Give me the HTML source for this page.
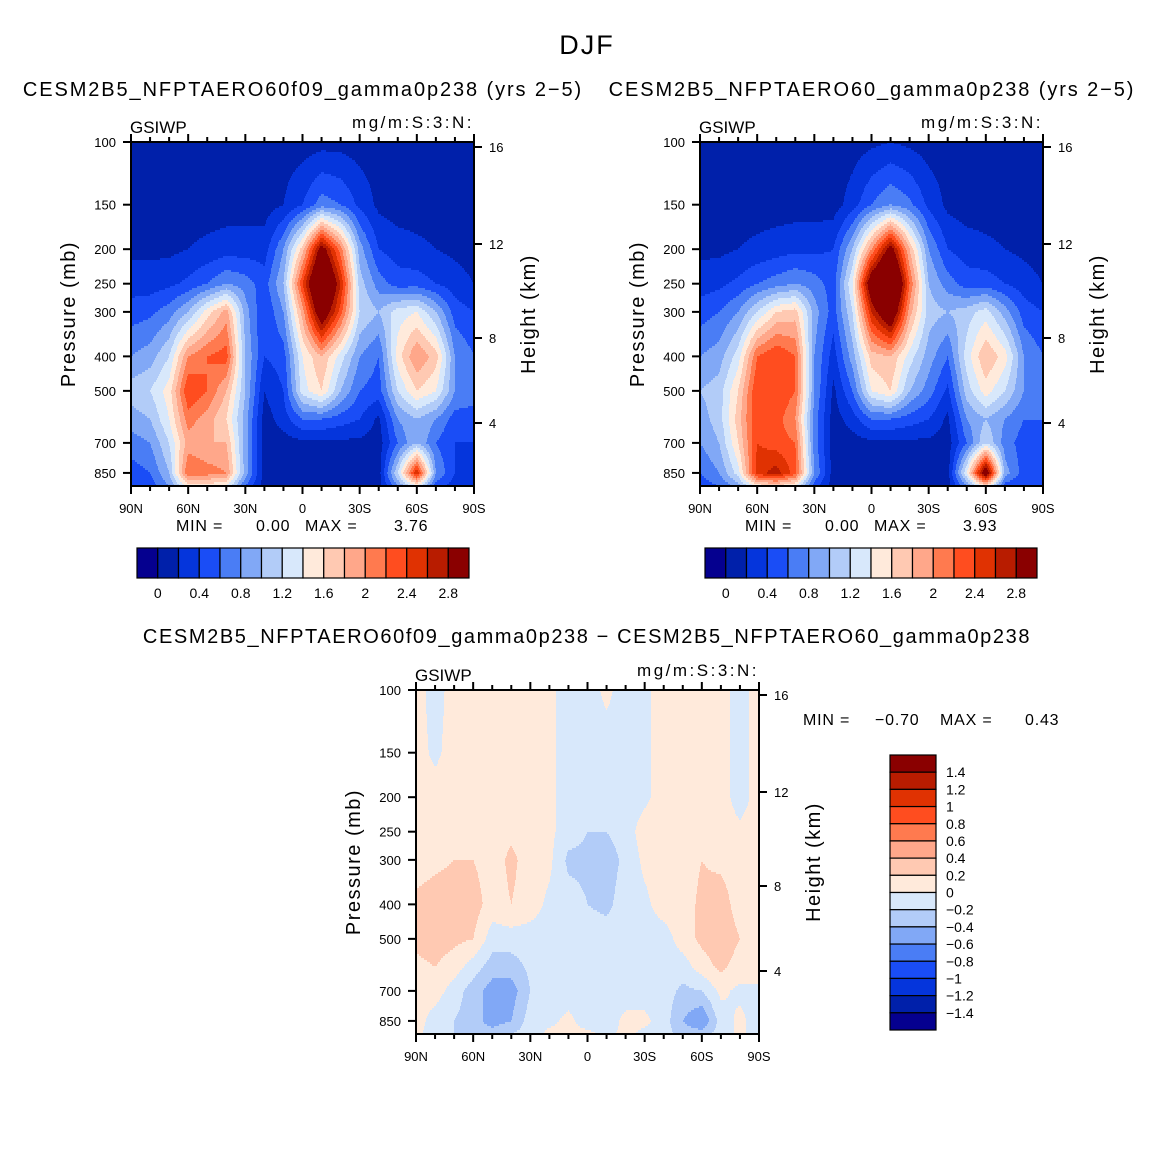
<!DOCTYPE html>
<html><head><meta charset="utf-8"><style>
html,body{margin:0;padding:0;background:#fff;}
svg{display:block;font-family:"Liberation Sans",sans-serif;}
</style></head><body>
<svg id="chart" width="1175" height="1175" viewBox="0 0 1175 1175" xmlns="http://www.w3.org/2000/svg">
<rect width="1175" height="1175" fill="#fff"/>
<text x="587" y="54" font-size="27" text-anchor="middle" letter-spacing="2">DJF</text>
<text x="303" y="96" font-size="20" text-anchor="middle" letter-spacing="1.9">CESM2B5_NFPTAERO60f09_gamma0p238 (yrs 2−5)</text>
<text x="872" y="96" font-size="20" text-anchor="middle" letter-spacing="1.9">CESM2B5_NFPTAERO60_gamma0p238 (yrs 2−5)</text>
<text x="587" y="643" font-size="20" text-anchor="middle" letter-spacing="1.6">CESM2B5_NFPTAERO60f09_gamma0p238 − CESM2B5_NFPTAERO60_gamma0p238</text>
<g id="layer"></g>
</svg>
<script>
const lats = ['90N','80N','70N','60N','50N','40N','30N','20N','10N','0','10S','20S','30S','40S','50S','60S','70S','80S','90S'];
const plevs = [100,150,200,250,300,400,500,600,700,850,925];
const pTicks = [100,150,200,250,300,400,500,700,850];
const hTicks = ['16','12','8','4'];
const hTickOffsets = [5,102,196,281];
const xTickLabels = ['90N','60N','30N','0','30S','60S','90S'];
const barLabelsTop = ['0','0.4','0.8','1.2','1.6','2','2.4','2.8'];
const barLabelsDiff = ['1.4','1.2','1','0.8','0.6','0.4','0.2','0','−0.2','−0.4','−0.6','−0.8','−1','−1.2','−1.4'];
const palette = ['#05008f','#0020aa','#0535dc','#1a4df6','#4a7df5','#81a8f6','#b2ccf8','#d8e8fb','#ffeadb','#ffc9b2','#ffa78a','#ff7a4f','#ff4d1f','#e03202','#b81c00','#8a0000'];
const stats1 = ['0.00','3.76'];
const stats2 = ['0.00','3.93'];
const stats3 = ['−0.70','0.43'];
const panel1 = [
[0.1,0.1,0.15,0.3,0.5,0.8,1.1,0.9,0.7,0.5,0.4],
[0.1,0.1,0.15,0.3,0.55,0.9,1.2,1.0,0.8,0.6,0.5],
[0.1,0.1,0.15,0.35,0.7,1.2,1.5,1.4,1.2,1.0,0.8],
[0.1,0.1,0.2,0.45,1.0,2.0,2.4,2.1,1.9,2.2,1.5],
[0.1,0.1,0.25,0.6,1.5,2.2,2.2,1.9,1.8,2.1,1.5],
[0.1,0.1,0.3,0.8,1.9,2.3,1.8,1.6,1.8,2.0,1.4],
[0.1,0.1,0.3,0.7,0.9,1.0,1.0,0.9,0.9,0.9,0.6],
[0.1,0.1,0.3,0.5,0.4,0.4,0.2,0.1,0.1,0.1,0.1],
[0.1,0.2,0.8,1.0,0.8,0.5,0.4,0.3,0.1,0.1,0.1],
[0.1,0.4,1.7,2.4,1.9,1.4,1.3,0.6,0.15,0.1,0.1],
[0.12,0.7,3.0,3.7,3.2,1.8,1.6,0.6,0.15,0.1,0.1],
[0.12,0.6,2.1,2.6,2.3,1.3,1.0,0.5,0.15,0.1,0.1],
[0.1,0.35,0.9,1.1,1.2,0.8,0.6,0.4,0.15,0.1,0.1],
[0.1,0.15,0.4,0.7,1.0,0.6,0.5,0.15,0.1,0.1,0.1],
[0.1,0.1,0.3,0.5,1.3,1.5,1.2,0.8,0.6,1.2,0.8],
[0.1,0.1,0.25,0.5,1.4,2.0,1.6,1.0,1.0,2.6,1.4],
[0.1,0.1,0.2,0.4,1.0,1.7,1.4,0.8,0.6,0.8,0.5],
[0.1,0.1,0.15,0.3,0.5,0.8,0.8,0.5,0.4,0.4,0.3],
[0.1,0.1,0.1,0.2,0.4,0.6,0.7,0.5,0.4,0.3,0.3]];
const panel2 = [
[0.1,0.1,0.15,0.3,0.5,0.8,1.0,0.9,0.8,0.6,0.5],
[0.1,0.1,0.15,0.35,0.6,0.9,1.1,1.1,1.0,0.8,0.6],
[0.1,0.1,0.2,0.45,0.8,1.3,1.6,1.7,1.6,1.3,0.9],
[0.1,0.1,0.25,0.6,1.2,2.2,2.4,2.4,2.4,2.5,1.5],
[0.1,0.1,0.3,0.7,1.6,2.4,2.4,2.3,2.3,2.7,1.6],
[0.1,0.1,0.35,0.8,1.7,2.2,2.2,2.0,2.2,2.3,1.4],
[0.1,0.1,0.35,0.7,0.9,0.8,0.8,0.7,0.7,0.8,0.5],
[0.1,0.1,0.4,0.5,0.5,0.3,0.15,0.1,0.1,0.1,0.1],
[0.1,0.3,1.0,1.4,1.2,0.9,0.6,0.3,0.1,0.1,0.1],
[0.15,0.6,2.0,3.2,2.6,1.7,1.4,0.6,0.15,0.1,0.1],
[0.2,0.8,3.0,3.9,3.3,1.8,1.6,0.6,0.15,0.1,0.1],
[0.15,0.65,1.8,2.2,1.9,1.3,1.0,0.5,0.15,0.1,0.1],
[0.1,0.35,0.8,1.0,1.1,0.9,0.7,0.4,0.15,0.1,0.1],
[0.1,0.15,0.4,0.7,1.0,0.6,0.35,0.15,0.1,0.1,0.1],
[0.1,0.1,0.3,0.5,1.1,1.3,1.1,0.8,0.6,1.4,0.8],
[0.1,0.1,0.25,0.5,1.3,1.8,1.5,1.0,1.2,3.2,1.6],
[0.1,0.1,0.2,0.4,0.9,1.5,1.2,0.8,0.7,0.9,0.5],
[0.1,0.1,0.15,0.3,0.5,0.8,0.8,0.6,0.5,0.5,0.4],
[0.1,0.1,0.1,0.2,0.4,0.6,0.7,0.6,0.5,0.4,0.4]];
const panel3 = [
[0.1,0.1,0.1,0.1,0.1,0.25,0.25,0.15,0.1,0.1,0.05],
[-0.1,-0.05,0.1,0.1,0.15,0.3,0.3,0.2,0.1,-0.1,-0.1],
[0.1,0.1,0.1,0.1,0.2,0.3,0.25,0.1,-0.1,-0.2,-0.2],
[0.1,0.1,0.1,0.1,0.2,0.3,0.2,-0.1,-0.3,-0.3,-0.3],
[0.1,0.1,0.1,0.1,0.1,0.1,-0.1,-0.3,-0.5,-0.5,-0.3],
[0.1,0.1,0.1,0.15,0.25,0.2,-0.1,-0.3,-0.5,-0.4,-0.2],
[0.1,0.1,0.1,0.1,0.1,0.1,-0.1,-0.15,-0.2,-0.1,-0.1],
[0.05,0.05,0.05,0.05,0.05,-0.05,-0.1,-0.1,-0.1,-0.05,0.05],
[-0.1,-0.1,-0.1,-0.1,-0.25,-0.1,-0.1,-0.1,-0.1,0.05,0.05],
[-0.1,-0.1,-0.1,-0.2,-0.25,-0.2,-0.1,-0.05,-0.1,-0.1,0.05],
[0.05,-0.1,-0.1,-0.2,-0.3,-0.25,-0.1,-0.1,-0.1,-0.1,-0.05],
[-0.1,-0.1,-0.1,-0.1,-0.15,-0.1,-0.1,-0.1,-0.1,0.05,0.05],
[-0.05,-0.05,-0.05,0.1,0.05,-0.05,-0.1,-0.1,-0.1,0.05,-0.05],
[0.1,0.1,0.1,0.1,0.1,0.1,-0.1,-0.1,-0.1,-0.1,-0.1],
[0.1,0.1,0.1,0.1,0.1,0.1,0.1,-0.1,-0.25,-0.4,-0.3],
[0.1,0.1,0.1,0.1,0.2,0.25,0.25,0.1,-0.2,-0.6,-0.3],
[0.1,0.1,0.1,0.1,0.15,0.3,0.35,0.25,0.05,-0.1,-0.1],
[-0.1,-0.1,-0.1,0.05,0.1,0.1,0.2,0.1,-0.05,0.05,0.05],
[0.1,0.1,0.1,0.1,0.1,0.1,0.2,0.15,-0.05,-0.1,-0.1]];

const NS='http://www.w3.org/2000/svg';
const layer=document.getElementById('layer');
function mk(tag,attrs,parent){const e=document.createElementNS(NS,tag);for(const k in attrs)e.setAttribute(k,attrs[k]);(parent||layer).appendChild(e);return e;}
const PH=344,PW=343,PBOT=925;
const lnTop=Math.log(100), lnBot=Math.log(PBOT);
function yScale(p,y0){return y0+(Math.log(p)-lnTop)/(lnBot-lnTop)*PH;}
function xScale(i,x0){return x0+i/(lats.length-1)*PW;}
function pAt(y,y0){return Math.exp(lnTop+(y-y0)/PH*(lnBot-lnTop));}
function sample(data,fx,p){
  const n=lats.length-1;let i=Math.min(Math.max(fx,0),n);let i0=Math.min(Math.floor(i),n-1),tx=i-i0;
  const lp=Math.log(p);let j0=0;
  for(let j=0;j<plevs.length-1;j++){if(lp>=Math.log(plevs[j]))j0=j;}
  let ty=(lp-Math.log(plevs[j0]))/(Math.log(plevs[j0+1])-Math.log(plevs[j0]));ty=Math.min(Math.max(ty,0),1);
  const a=data[i0][j0]*(1-tx)+data[i0+1][j0]*tx;
  const b=data[i0][j0+1]*(1-tx)+data[i0+1][j0+1]*tx;
  return a*(1-ty)+b*ty;
}
function levelTop(v){return v<0?0:Math.min(15,Math.floor(v/0.2)+1);}
function levelDiff(v){return v<-1.4?0:Math.min(15,Math.floor((v+1.4)/0.2+1e-9)+1);}

function drawPanel(data,x0,y0,lev,name){
  const g=mk('g',{});
  
  
  const step=2;
  for(let y=y0;y<y0+PH;y+=step){
    const p=pAt(y+step/2,y0);
    let runStart=x0,runC=-1;
    for(let x=x0;x<=x0+PW;x++){
      let c=-2;
      if(x<x0+PW){const fx=(x+0.5-x0)/PW*(lats.length-1);c=lev(sample(data,fx,p));}
      if(c!==runC){
        if(runC>=0){const r=mk('rect',{x:runStart,y:y,width:x-runStart+0.5,height:step+0.5,fill:palette[runC]},g);
          
          }
        runStart=x;runC=c;
      }
    }
  }
  const ax=mk('g',{stroke:'#000','stroke-width':2});
  
  
  mk('rect',{x:x0,y:y0,width:PW,height:PH,fill:'none'},ax);
  for(let k=0;k<=18;k++){
    const x=xScale(k,x0),major=k%3===0,L=major?8:5;
    mk('line',{x1:x,x2:x,y1:y0,y2:y0-L},ax);
    mk('line',{x1:x,x2:x,y1:y0+PH,y2:y0+PH+L},ax);
  }
  xTickLabels.forEach((t,k)=>{const e=mk('text',{x:xScale(k*3,x0),y:y0+PH+27,'font-size':13,'text-anchor':'middle'});e.textContent=t;
    
    });
  pTicks.forEach(p=>{const y=yScale(p,y0);mk('line',{x1:x0,x2:x0-8,y1:y,y2:y},ax);
    const e=mk('text',{x:x0-15,y:y+5,'font-size':13,'text-anchor':'end'});e.textContent=p;
    
    });
  hTicks.forEach((h,k)=>{const y=y0+hTickOffsets[k];mk('line',{x1:x0+PW,x2:x0+PW+8,y1:y,y2:y},ax);
    const e=mk('text',{x:x0+PW+15,y:y+5,'font-size':13});e.textContent=h;
    
    });
  let e=mk('text',{x:x0-1,y:y0-9,'font-size':17});e.textContent='GSIWP';
  
  
  e=mk('text',{x:x0+PW,y:y0-14,'font-size':17,'text-anchor':'end','letter-spacing':2.5});e.textContent='mg/m:S:3:N:';
  
  
  e=mk('text',{transform:`translate(${x0-56},${y0+172}) rotate(-90)`,'font-size':20,'text-anchor':'middle','letter-spacing':1.5});e.textContent='Pressure (mb)';
  
  
  e=mk('text',{transform:`translate(${x0+PW+61},${y0+172}) rotate(-90)`,'font-size':20,'text-anchor':'middle','letter-spacing':1.5});e.textContent='Height (km)';
  
  
}
function statsText(x,y,stats,offs){
  const parts=[['MIN =',offs[0]],[stats[0],offs[1]],['MAX =',offs[2]],[stats[1],offs[3]]];
  parts.forEach(([t,dx])=>{
    const e=mk('text',{x:x+dx,y:y,'font-size':16,'letter-spacing':0.8});
    e.textContent=t;
    
    
  });
}
function hBar(x0,y0){
  const w=332/16;
  const g=mk('g',{});
  
  
  palette.forEach((c,i)=>{const r=mk('rect',{x:x0+i*w,y:y0,width:w,height:30,fill:c,stroke:'#000','stroke-width':1.2},g);
    
    });
  barLabelsTop.forEach((t,k)=>{const e=mk('text',{x:x0+(1+2*k)*w,y:y0+50,'font-size':14,'text-anchor':'middle'},g);e.textContent=t;
    
    });
}
function vBar(x0,y0){
  const h=275/16;
  const g=mk('g',{});
  
  
  palette.slice().reverse().forEach((c,i)=>{const r=mk('rect',{x:x0,y:y0+i*h,width:46,height:h,fill:c,stroke:'#000','stroke-width':1.2},g);
    
    });
  barLabelsDiff.forEach((t,k)=>{const e=mk('text',{x:x0+56,y:y0+(k+1)*h+5,'font-size':14},g);e.textContent=t;
    
    });
}
drawPanel(panel1,131,142,levelTop,'panel1');
statsText(176,531,stats1,[0,80,129,218]);
hBar(137,548);
drawPanel(panel2,700,142,levelTop,'panel2');
statsText(745,531,stats2,[0,80,129,218]);
hBar(705,548);
drawPanel(panel3,416,690,levelDiff,'panel3');
statsText(803,725,stats3,[0,72,137,222]);
vBar(890,755);
</script>
</body></html>
